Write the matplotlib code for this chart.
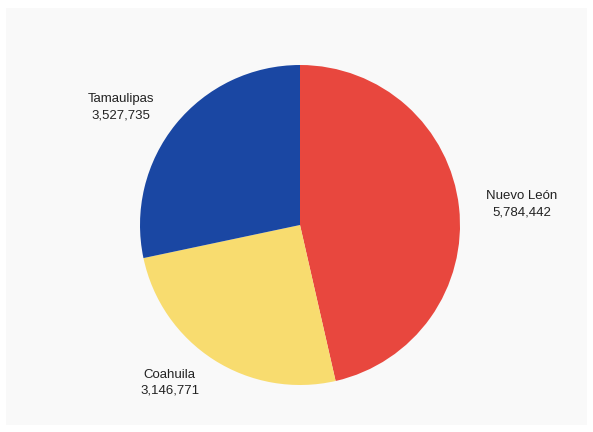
import matplotlib
matplotlib.use("Agg")
import matplotlib.pyplot as plt
from matplotlib.patches import Rectangle

states = ["Nuevo León", "Coahuila", "Tamaulipas"]
population = [5784442, 3146771, 3527735]
colors = ["#E8473E", "#F8DC6F", "#1A47A3"]

plt.rcParams['font.family'] = ['Liberation Sans', 'DejaVu Sans']

fig = plt.figure(figsize=(5.93, 4.32), dpi=100, facecolor="white")
bg = Rectangle((6/593, 7/432), 581/593, 417/432, transform=fig.transFigure,
               facecolor="#F9F9F9", edgecolor="none", zorder=-10)
fig.add_artist(bg)
ax = fig.add_axes([0, 0, 1, 1], zorder=1)
ax.set_facecolor("none")
ax.axis("off")

labels = [f"{s}\n{v:,}" for s, v in zip(states, population)]
wedges, texts = ax.pie(population, colors=colors, startangle=90, counterclock=False,
                       labels=labels, labeldistance=1.17,
                       textprops=dict(fontsize=9.5, color="#222222",
                                      va="center", linespacing=1.45))
for t in texts:
    t.set_multialignment("center")

ax.set_xlim(-300/160, 293/160)
ax.set_ylim(-207/160, 225/160)
ax.set_aspect("auto")

fig.savefig("out.png", dpi=100, facecolor="white")
